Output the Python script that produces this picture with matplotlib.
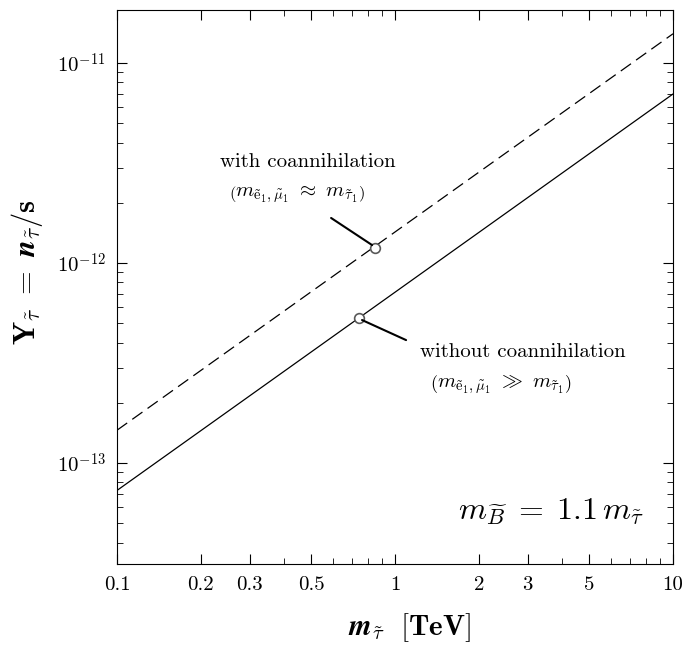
import numpy as np
import matplotlib.pyplot as plt
import matplotlib as mpl
from matplotlib.ticker import FixedLocator, FixedFormatter, NullFormatter

mpl.rcParams.update({
    'font.family': 'serif',
    'font.serif': ['cmr10'],
    'mathtext.fontset': 'cm',
    'axes.formatter.use_mathtext': True,
    'axes.unicode_minus': False,
    'font.size': 15,
})

# stau mass [TeV] and yield Y = n/s
m_stau = [0.1, 10.0]
Y_without = [7.3e-14, 7.0e-12]   # solid
Y_with = [1.46e-13, 1.40e-11]    # dashed

# marked points on each line
m_mark_with, Y_mark_with = [0.847], [1.19e-12]
m_mark_without, Y_mark_without = [0.742], [5.3e-13]

x_ticks = [0.1, 0.2, 0.3, 0.5, 1, 2, 3, 5, 10]
x_ticklabels = ['0.1', '0.2', '0.3', '0.5', '1', '2', '3', '5', '10']
x_minor = [0.4, 0.6, 0.7, 0.8, 0.9, 4, 6, 7, 8, 9]
y_ticks = [1e-13, 1e-12, 1e-11]
y_ticklabels = [r'$10^{-13}$', r'$10^{-12}$', r'$10^{-11}$']
y_minor = [k * 10.0**e for e in (-14, -13, -12, -11) for k in range(2, 10)]

fig = plt.figure(figsize=(6.83, 6.46), dpi=100)
ax = fig.add_axes([0.1713, 0.1269, 0.8141, 0.8576])

ax.plot(m_stau, Y_without, color='black', lw=0.9)
ax.plot(m_stau, Y_with, color='black', lw=0.9, dashes=(10, 5))
ax.plot(m_mark_with, Y_mark_with, 'o', ms=7, mfc='white', mec='0.35', mew=1.2)
ax.plot(m_mark_without, Y_mark_without, 'o', ms=7, mfc='white', mec='0.35', mew=1.2)

ax.set_xscale('log')
ax.set_yscale('log')
ax.set_xlim(0.1, 10)
ax.set_ylim(3.13e-14, 1.84e-11)

ax.xaxis.set_major_locator(FixedLocator(x_ticks))
ax.xaxis.set_major_formatter(FixedFormatter(x_ticklabels))
ax.xaxis.set_minor_locator(FixedLocator(x_minor))
ax.xaxis.set_minor_formatter(NullFormatter())
ax.yaxis.set_major_locator(FixedLocator(y_ticks))
ax.yaxis.set_major_formatter(FixedFormatter(y_ticklabels))
ax.yaxis.set_minor_locator(FixedLocator(y_minor))
ax.yaxis.set_minor_formatter(NullFormatter())

ax.tick_params(which='both', direction='in', top=True, right=True, labelsize=15)
ax.tick_params(which='major', length=7, width=0.8)
ax.tick_params(which='minor', length=4, width=0.6)
ax.tick_params(axis='x', pad=9)
ax.tick_params(axis='y', pad=8)

ax.set_xlabel(r'$\boldsymbol{m}_{\boldsymbol{\tilde{\tau}}}\ \ \mathbf{[TeV]}$', fontsize=21)
ax.xaxis.set_label_coords(0.525, -0.085)
ax.set_ylabel(r'$\mathbf{Y}_{\boldsymbol{\tilde{\tau}}}\ \mathbf{=}\ \boldsymbol{n}_{\boldsymbol{\tilde{\tau}}}/\mathbf{s}$',
              fontsize=22)
ax.yaxis.set_label_coords(-0.13, 0.527)

# annotations
ax.text(0.486, 3.2e-12, 'with coannihilation', fontsize=15, ha='center', va='center')
ax.text(0.444, 2.21e-12, r'$\left(m_{\tilde{\mathrm{e}}_1,\tilde{\mu}_1}\ \approx\ m_{\tilde{\tau}_1}\right)$',
        fontsize=15, ha='center', va='center')
ax.annotate('', xy=(0.827, 1.23e-12), xytext=(0.589, 1.68e-12),
            arrowprops=dict(arrowstyle='-', lw=1.5, color='black', shrinkA=0, shrinkB=0))
ax.text(1.23, 3.59e-13, 'without coannihilation', fontsize=15, ha='left', va='center')
ax.text(1.336, 2.48e-13, r'$\left(m_{\tilde{\mathrm{e}}_1,\tilde{\mu}_1}\ \gg\ m_{\tilde{\tau}_1}\right)$',
        fontsize=15, ha='left', va='center')
ax.annotate('', xy=(0.761, 5.19e-13), xytext=(1.096, 4.12e-13),
            arrowprops=dict(arrowstyle='-', lw=1.5, color='black', shrinkA=0, shrinkB=0))
ax.text(3.64, 5.69e-14, r'$m_{\widetilde{B}}\;=\;1.1\,m_{\tilde{\tau}}$', fontsize=23, ha='center', va='center')

fig.savefig('out.png', dpi=100)
